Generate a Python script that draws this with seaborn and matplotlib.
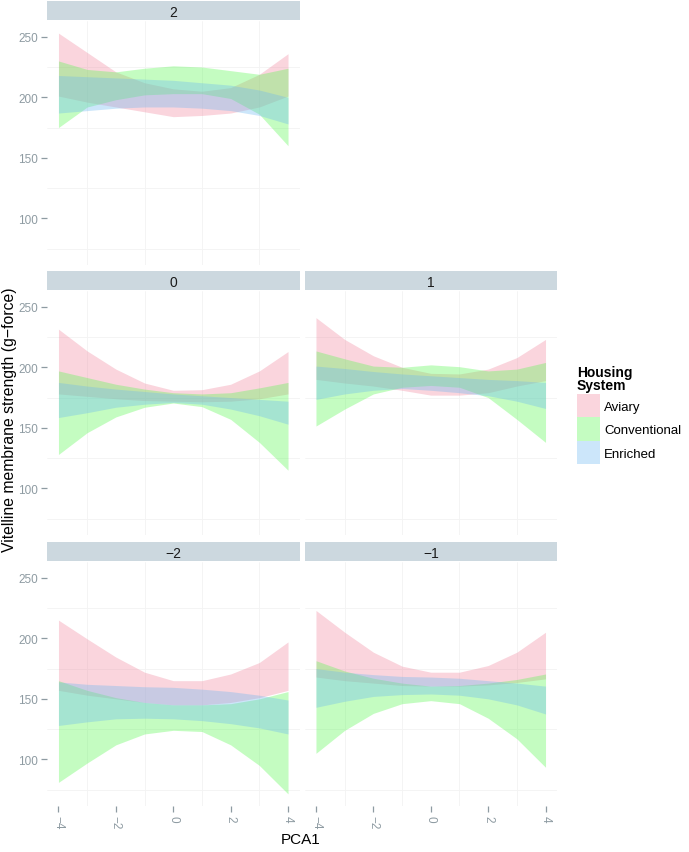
import numpy as np
import pandas as pd
import seaborn as sns
import matplotlib
matplotlib.use("Agg")
import matplotlib.pyplot as plt
from matplotlib.patches import Rectangle

# ---------------- data ----------------
pca1 = [-4, -3, -2, -1, 0, 1, 2, 3, 4]
panels = ["2", "0", "1", "-2", "-1"]
systems = ["Aviary", "Conventional", "Enriched"]

# panel "2"
p2_aviary_hi = [253, 237, 221, 212, 207, 205, 208, 219, 236]
p2_aviary_lo = [201, 196, 192, 188, 184, 185, 187, 192, 201]
p2_conv_hi = [230, 223, 221, 224, 226, 225, 222, 219, 224]
p2_conv_lo = [175, 192, 198, 202, 203, 203, 199, 186, 160]
p2_enr_hi = [218, 217, 216, 215, 214, 212, 210, 206, 200]
p2_enr_lo = [187, 189, 191, 192, 192, 191, 189, 185, 178]

# panel "0"
p0_aviary_hi = [231.5, 213.5, 198.5, 187, 181, 181.5, 186, 197, 213]
p0_aviary_lo = [178, 176, 174, 172.5, 172, 171.5, 172, 174, 178]
p0_conv_hi = [197, 191.5, 186, 182, 179, 178, 179, 183, 187.5]
p0_conv_lo = [128, 146, 159, 167, 170.5, 167.5, 157, 138, 115]
p0_enr_hi = [187.5, 184.5, 182, 180, 178, 176.5, 175, 173.5, 172]
p0_enr_lo = [158.5, 162.5, 167, 169.5, 171, 169.5, 165.5, 160, 153]

# panel "1"
p1_aviary_hi = [241, 223, 209.5, 200, 195, 194.5, 198.5, 208, 223]
p1_aviary_lo = [190, 187, 184.5, 181, 177, 177, 179, 184.5, 189]
p1_conv_hi = [213.5, 207, 201, 200, 202, 200.5, 197, 198.5, 204]
p1_conv_lo = [151.5, 165.5, 178, 183.5, 185, 183.5, 175, 157, 138]
p1_enr_hi = [201, 199, 196.5, 194.5, 193, 191.5, 190, 189, 187.5]
p1_enr_lo = [173.5, 178, 181, 182.5, 181, 179, 176.5, 172, 166]

# panel "-2"
pm2_aviary_hi = [215, 199.5, 184.5, 172, 165, 165, 170.5, 180, 197]
pm2_aviary_lo = [157, 153, 150, 147, 145, 145, 147, 151, 157]
pm2_conv_hi = [165, 157, 151, 147, 145, 145, 146, 150, 156]
pm2_conv_lo = [81, 97, 112, 121, 124, 123, 112, 95, 71.5]
pm2_enr_hi = [164, 162, 161, 160, 159.5, 158, 156, 153, 149]
pm2_enr_lo = [128, 131, 133.5, 134, 133.5, 132, 129.5, 126, 121]

# panel "-1"
pm1_aviary_hi = [223, 205, 188.5, 177, 172, 172, 177.5, 188.5, 205]
pm1_aviary_lo = [168, 165, 163, 161, 160.5, 160.5, 161.5, 163.5, 166.5]
pm1_conv_hi = [181.5, 173, 167, 163, 160.5, 161, 163, 166, 170.5]
pm1_conv_lo = [105, 124, 138, 146, 148.5, 146, 134, 117, 93.5]
pm1_enr_hi = [175, 172, 170, 168.5, 168, 167, 165, 163, 160.5]
pm1_enr_lo = [143, 148, 152, 153.5, 154, 153, 150, 145, 137.5]

x_ticks = [-4, -2, 0, 2, 4]
y_ticks = [100, 150, 200, 250]

bands = {
    "2": [(p2_aviary_lo, p2_aviary_hi), (p2_conv_lo, p2_conv_hi), (p2_enr_lo, p2_enr_hi)],
    "0": [(p0_aviary_lo, p0_aviary_hi), (p0_conv_lo, p0_conv_hi), (p0_enr_lo, p0_enr_hi)],
    "1": [(p1_aviary_lo, p1_aviary_hi), (p1_conv_lo, p1_conv_hi), (p1_enr_lo, p1_enr_hi)],
    "-2": [(pm2_aviary_lo, pm2_aviary_hi), (pm2_conv_lo, pm2_conv_hi), (pm2_enr_lo, pm2_enr_hi)],
    "-1": [(pm1_aviary_lo, pm1_aviary_hi), (pm1_conv_lo, pm1_conv_hi), (pm1_enr_lo, pm1_enr_hi)],
}

rows = []
for p in panels:
    for s, (lo, hi) in zip(systems, bands[p]):
        for xv, l, h in zip(pca1, lo, hi):
            rows.append({"panel": p, "system": s, "PCA1": xv, "lower": l, "upper": h})
df = pd.DataFrame(rows)

# ---------------- styling ----------------
sns.set_theme(style="white")
plt.rcParams["font.family"] = ["Liberation Sans", "DejaVu Sans"]
plt.rcParams["axes.unicode_minus"] = True

palette = dict(zip(systems, ["#F1879F", "#56F94E", "#6DB8F1"]))
ALPHA = 0.35
STRIP = "#CCD8DF"
TICKC = "#8E9BA2"
GRIDC = "#F3F3F3"

W, H = 689, 853
fig = plt.figure(figsize=(W / 100, H / 100), dpi=100)
fig.patch.set_facecolor("white")


def fax(x0, y0, x1, y1):
    return fig.add_axes([x0 / W, 1 - y1 / H, (x1 - x0) / W, (y1 - y0) / H])


cols = [(47, 299.5), (304.5, 557)]
rws = [(22, 266), (292, 536), (563, 807)]
strips = [(2, 21), (272, 291), (543, 562)]
layout = {"2": (0, 0), "0": (1, 0), "1": (1, 1), "-2": (2, 0), "-1": (2, 1)}


def lab(p):
    return p.replace("-", "\u2212")


for p in panels:
    r, c = layout[p]
    x0, x1 = cols[c]
    y0, y1 = rws[r]
    ax = fax(x0, y0, x1, y1)
    sub = df[df.panel == p]
    for s in systems:
        d = sub[sub.system == s]
        ax.fill_between(d["PCA1"], d["lower"], d["upper"], color=palette[s],
                        alpha=ALPHA, linewidth=0, zorder=2)
    ax.set_xlim(-4.4, 4.4)
    ax.set_ylim(61.5, 263)
    ax.set_xticks(x_ticks)
    ax.set_yticks(y_ticks)
    ax.set_xticks([-3, -1, 1, 3], minor=True)
    ax.set_yticks([75, 125, 175, 225], minor=True)
    ax.grid(False)
    ax.grid(True, which="minor", color=GRIDC, linewidth=0.6, zorder=0)
    for sp in ax.spines.values():
        sp.set_visible(False)
    ax.tick_params(axis="both", which="major", direction="out", length=4.5,
                   width=0.9, color=TICKC, labelcolor=TICKC, labelsize=8.5, pad=2,
                   bottom=True, left=True)
    ax.tick_params(axis="both", which="minor", length=0, bottom=False, left=False)
    if c == 0:
        ax.set_yticklabels([str(v) for v in y_ticks])
    else:
        ax.tick_params(axis="y", which="major", left=False, labelleft=False)
    if r == 2:
        ax.set_xticklabels([str(v).replace("-", "\u2212") for v in x_ticks],
                           rotation=270, va="top", ha="center")
    else:
        ax.tick_params(axis="x", which="major", bottom=False, labelbottom=False)
    ax.set_xlabel("")
    ax.set_ylabel("")
    # strip
    sy0, sy1 = strips[r]
    sax = fax(x0, sy0, x1, sy1)
    sax.set_facecolor(STRIP)
    sax.set_xticks([])
    sax.set_yticks([])
    for sp in sax.spines.values():
        sp.set_visible(False)
    sax.text(0.5, 0.5, lab(p), ha="center", va="center_baseline", fontsize=10,
             color="#1A1A1A", transform=sax.transAxes)

# axis titles
fig.text(10 / W, 1 - 420 / H, "Vitelline membrane strength (g\u2212force)",
         rotation=90, ha="center", va="center", fontsize=11.3, color="black")
fig.text(301 / W, 1 - 840 / H, "PCA1", ha="center", va="center", fontsize=11,
         color="black")

# legend
fig.text(577 / W, 1 - 377 / H, "Housing", ha="left", va="baseline",
         fontsize=10, fontweight="bold", color="black")
fig.text(577 / W, 1 - 390 / H, "System", ha="left", va="baseline",
         fontsize=10, fontweight="bold", color="black")
key_rows = [(395, 418), (418, 442), (442, 465)]
for s, (ky0, ky1) in zip(systems, key_rows):
    fig.patches.append(Rectangle((577 / W, 1 - ky1 / H), 23 / W, (ky1 - ky0) / H,
                                 transform=fig.transFigure, facecolor=palette[s],
                                 alpha=ALPHA, linewidth=0))
    fig.text(604 / W, 1 - (ky0 + ky1) / 2 / H, s, ha="left",
             va="center_baseline", fontsize=9.5, color="black")

fig.savefig("out.png", dpi=100, facecolor="white")
